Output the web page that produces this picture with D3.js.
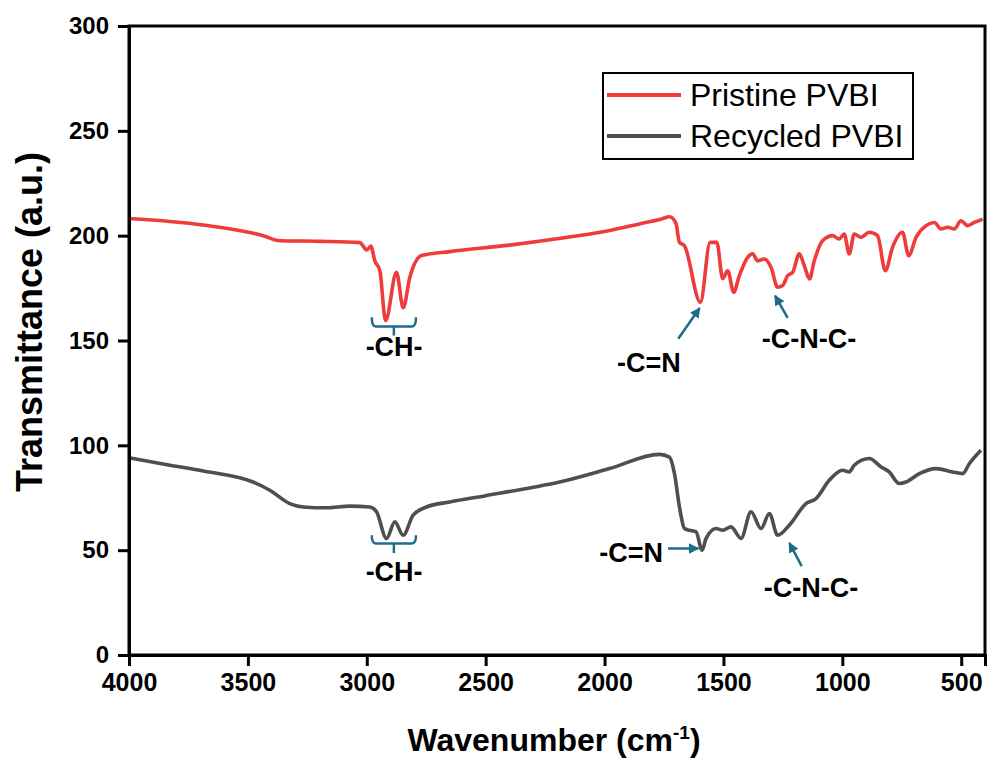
<!DOCTYPE html>
<html>
<head>
<meta charset="utf-8">
<script src="https://cdn.jsdelivr.net/npm/d3@7"></script>
<style>
  body { margin: 0; background: #fff; }
  svg { display: block; font-family: "Liberation Sans", Arial, sans-serif; }
</style>
</head>
<body>
<div id="chart"></div>
<script>
// Spectra: wavenumber (cm-1) and transmittance (a.u.)
const pristineWave = [4000, 3688, 3436, 3366, 3197, 3029, 3000, 2983, 2966, 2945, 2921, 2875, 2847, 2819, 2770, 2651,
  2400, 2200, 2000, 1853, 1760, 1727, 1700, 1685, 1664, 1597, 1556, 1528, 1503, 1482, 1457, 1433, 1398, 1377, 1356,
  1328, 1300, 1272, 1251, 1230, 1209, 1181, 1160, 1138, 1118, 1083, 1041, 1013, 992, 971, 950, 922, 887, 852, 819,
  789, 747, 721, 690, 648, 613, 585, 557, 529, 501, 473, 445, 410];
const pristineValue = [208.2, 205.1, 200, 197.6, 197.3, 196.7, 193.2, 195, 188, 183.3, 159.5, 182.5, 165.6, 180.1, 190.5, 192.4,
  195.5, 198.5, 202, 205.6, 208, 209, 206, 196.8, 195.2, 168.2, 196.8, 196.8, 179.5, 183.3, 173, 181, 189.7, 191.3, 188,
  188.9, 184.9, 175.4, 176.2, 181, 182.5, 191.3, 185.7, 179.4, 188, 197.6, 200, 198.4, 200.8, 191.3, 200.8, 199.2, 201.6, 200, 183.3,
  194.4, 201.6, 190.5, 199.2, 204.8, 206.3, 203.2, 204, 203.2, 207.1, 204.8, 206.3, 207.9];

const recycledWave = [4000, 3828, 3688, 3478, 3408, 3324, 3268, 3170, 3071, 2987, 2959, 2917, 2882, 2847, 2805, 2749, 2651,
  2500, 2300, 2189, 1979, 1769, 1727, 1706, 1685, 1664, 1643, 1615, 1590, 1573, 1531, 1503, 1468, 1426, 1384, 1342,
  1307, 1272, 1223, 1153, 1111, 1055, 999, 971, 950, 887, 837, 803, 761, 732, 676, 606, 536, 494, 466, 417];
const recycledValue = [94.1, 90.5, 87.8, 82.5, 78.6, 72.2, 70.6, 70.2, 71, 70.6, 68.3, 55.6, 63.5, 57.1, 66.7, 70.6, 73,
  76, 80, 82.5, 88.9, 95.7, 94.4, 86.5, 70.6, 60.3, 59.5, 58.7, 50, 55.6, 60.3, 59.5, 61.1, 55.6, 68.3, 60.3,
  67.5, 57.1, 61.9, 72.2, 74.6, 83.3, 88.1, 87.3, 90.5, 93.7, 89.7, 87.3, 81.8, 82.5, 86.5, 88.9, 87.3, 86.5, 91.2, 97.6];

const seriesNames = ["Pristine PVBI", "Recycled PVBI"];
const seriesColors = ["#ee3b3b", "#4f4f4f"];

const xTicks = [4000, 3500, 3000, 2500, 2000, 1500, 1000, 500];
const yTicks = [0, 50, 100, 150, 200, 250, 300];

// Band labels: [text, wavenumber, value, anchor]
const labels = [
  ["-CH-", 2885, 142.4, "middle"],
  ["-C=N", 1679, 135.2, "end"],
  ["-C-N-C-", 1140, 146.2, "middle"],
  ["-CH-", 2885, 35.2, "middle"],
  ["-C=N", 1754, 44.3, "end"],
  ["-C-N-C-", 1132, 27.6, "middle"]
];
// Arrows: [fromWave, fromValue, toWave, toValue]
const arrows = [
  [1690, 150.8, 1600, 165.5],
  [1230, 160.8, 1283, 171.4],
  [1733, 50.8, 1605, 50.8],
  [1171, 42.4, 1223, 53.5]
];
// Brackets: [leftWave, rightWave, topValue, bottomValue, tipValue]
const brackets = [
  [2979, 2793, 161.1, 156.7, 152.4],
  [2979, 2793, 57.1, 53.2, 48.7]
];

const width = 988, height = 762;
const margin = { left: 129, right: 985, top: 26, bottom: 655 };

const svg = d3.select("#chart").append("svg")
  .attr("width", width)
  .attr("height", height);

const x = d3.scaleLinear().domain([4000, 400]).range([margin.left, margin.right]);
const y = d3.scaleLinear().domain([0, 300]).range([margin.bottom, margin.top]);

const annColor = "#1f6b8a";
svg.append("defs").append("marker")
  .attr("id", "head")
  .attr("viewBox", "0 0 10 10")
  .attr("refX", 9).attr("refY", 5)
  .attr("markerWidth", 4.2).attr("markerHeight", 4.2)
  .attr("markerUnits", "strokeWidth")
  .attr("orient", "auto")
  .append("path")
  .attr("d", "M0,0 L10,5 L0,10 Z")
  .attr("fill", annColor);

// curves
const line = d3.line()
  .x(d => x(d[0]))
  .y(d => y(d[1]))
  .curve(d3.curveMonotoneX);

const series = [
  d3.zip(pristineWave, pristineValue),
  d3.zip(recycledWave, recycledValue)
];

svg.selectAll(".curve")
  .data(series)
  .enter()
  .append("path")
  .attr("class", "curve")
  .attr("d", line)
  .attr("fill", "none")
  .attr("stroke", (d, i) => seriesColors[i])
  .attr("stroke-width", 3.6)
  .attr("stroke-linejoin", "round");

// frame
svg.append("rect")
  .attr("x", margin.left).attr("y", margin.top)
  .attr("width", margin.right - margin.left).attr("height", margin.bottom - margin.top)
  .attr("fill", "none")
  .attr("stroke", "#000")
  .attr("stroke-width", 3);

// axes
const xAxis = svg.append("g")
  .attr("transform", `translate(0,${margin.bottom})`)
  .call(d3.axisBottom(x).tickValues(xTicks).tickFormat(d3.format("d")).tickSize(11).tickPadding(7));
const yAxis = svg.append("g")
  .attr("transform", `translate(${margin.left},0)`)
  .call(d3.axisLeft(y).tickValues(yTicks).tickFormat(d3.format("d")).tickSize(11).tickPadding(9));

[xAxis, yAxis].forEach(g => {
  g.select(".domain").attr("stroke-width", 3);
  g.selectAll(".tick line").attr("stroke-width", 3);
  g.selectAll(".tick text")
    .attr("fill", "#000")
    .style("font-size", "24px")
    .style("font-weight", "bold")
    .style("font-family", "'Liberation Sans', Arial, sans-serif");
});
xAxis.selectAll(".tick text").style("font-size", "25px");

// axis titles
const xTitle = svg.append("text")
  .attr("x", (margin.left + margin.right) / 2 - 3)
  .attr("y", 751)
  .attr("text-anchor", "middle")
  .style("font-size", "32px")
  .style("font-weight", "bold")
  .text("Wavenumber (cm");
xTitle.append("tspan")
  .attr("dy", -12)
  .style("font-size", "19px")
  .text("-1");
xTitle.append("tspan")
  .attr("dy", 12)
  .text(")");

svg.append("text")
  .attr("transform", "translate(42,322) rotate(-90)")
  .attr("text-anchor", "middle")
  .style("font-size", "36px")
  .style("font-weight", "bold")
  .text("Transmittance (a.u.)");

// annotations
svg.selectAll(".band")
  .data(labels)
  .enter()
  .append("text")
  .attr("class", "band")
  .attr("x", d => x(d[1]))
  .attr("y", d => y(d[2]))
  .attr("text-anchor", d => d[3])
  .style("font-size", "27px")
  .style("font-weight", "bold")
  .text(d => d[0]);

svg.selectAll(".arrow")
  .data(arrows)
  .enter()
  .append("line")
  .attr("class", "arrow")
  .attr("x1", d => x(d[0])).attr("y1", d => y(d[1]))
  .attr("x2", d => x(d[2])).attr("y2", d => y(d[3]))
  .attr("stroke", annColor)
  .attr("stroke-width", 2.5)
  .attr("marker-end", "url(#head)");

svg.selectAll(".bracket")
  .data(brackets)
  .enter()
  .append("path")
  .attr("class", "bracket")
  .attr("d", d => {
    const x1 = x(d[0]), x2 = x(d[1]), t = y(d[2]), b = y(d[3]), m = (x1 + x2) / 2;
    return `M${x1},${t} Q${x1},${b} ${x1 + 4},${b} L${x2 - 4},${b} Q${x2},${b} ${x2},${t} M${m},${b} L${m},${y(d[4])}`;
  })
  .attr("fill", "none")
  .attr("stroke", annColor)
  .attr("stroke-width", 2.5);

// legend
const legend = svg.append("g");
legend.append("rect")
  .attr("x", 603).attr("y", 73)
  .attr("width", 310).attr("height", 86)
  .attr("fill", "#fff")
  .attr("stroke", "#000")
  .attr("stroke-width", 2);

const items = legend.selectAll(".item")
  .data(seriesNames)
  .enter()
  .append("g")
  .attr("transform", (d, i) => `translate(0,${95 + i * 41})`);

items.append("line")
  .attr("x1", 607).attr("x2", 681)
  .attr("stroke", (d, i) => seriesColors[i])
  .attr("stroke-width", 4);

items.append("text")
  .attr("x", 690)
  .attr("y", 11)
  .style("font-size", "32px")
  .text(d => d);
</script>
</body>
</html>
